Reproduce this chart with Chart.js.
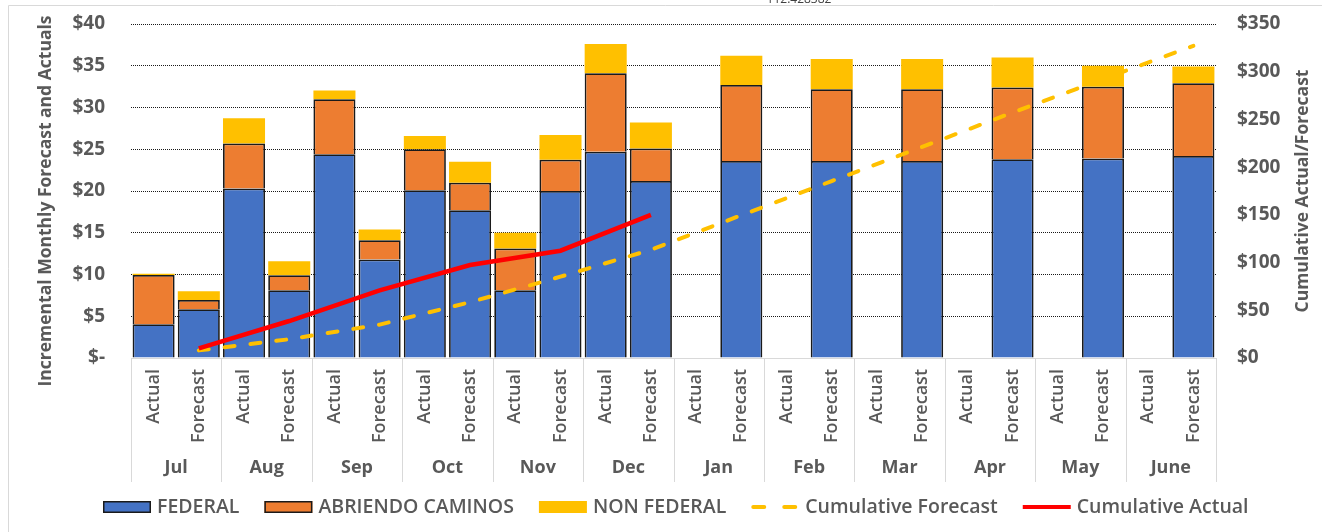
<!DOCTYPE html>
<html>
<head>
<meta charset="utf-8">
<script src="https://cdn.jsdelivr.net/npm/chart.js@4.4.1/dist/chart.umd.min.js"></script>
<style>
  html, body { margin: 0; padding: 0; background: #fff; }
  #wrap { position: relative; width: 1322px; height: 532px; }
</style>
</head>
<body>
<div id="wrap"><canvas id="grafico"></canvas></div>
<script>
// dados
const meses = ['Jul', 'Aug', 'Sep', 'Oct', 'Nov', 'Dec', 'Jan', 'Feb', 'Mar', 'Apr', 'May', 'June'];
const rotulos = ['Actual', 'Forecast', 'Actual', 'Forecast', 'Actual', 'Forecast', 'Actual', 'Forecast',
  'Actual', 'Forecast', 'Actual', 'Forecast', 'Actual', 'Forecast', 'Actual', 'Forecast',
  'Actual', 'Forecast', 'Actual', 'Forecast', 'Actual', 'Forecast', 'Actual', 'Forecast'];

const federal = [4.05, 5.85, 20.3, 8.1, 24.4, 11.8, 20.1, 17.7, 8.1, 20.0, 24.7, 21.2,
  null, 23.6, null, 23.6, null, 23.6, null, 23.8, null, 23.9, null, 24.2];
const abriendo = [5.9, 1.1, 5.4, 1.8, 6.6, 2.3, 4.9, 3.3, 5.0, 3.75, 9.4, 3.9,
  null, 9.1, null, 8.6, null, 8.6, null, 8.6, null, 8.6, null, 8.7];
const nonFederal = [0.15, 1.05, 3.0, 1.7, 1.05, 1.3, 1.6, 2.5, 1.9, 2.95, 3.5, 3.1,
  null, 3.5, null, 3.6, null, 3.6, null, 3.6, null, 2.5, null, 2.0];

const cumForecast = [null, 8.0, null, 19.65, null, 35.0, null, 58.5, null, 85.2, null, 113.4,
  null, 149.6, null, 185.4, null, 221.2, null, 257.2, null, 292.2, null, 327.1];
const cumActual = [null, 10.05, null, 38.75, null, 70.8, null, 97.4, null, 112.428382, null, 150.0,
  null, null, null, null, null, null, null, null, null, null, null, null];

const ticksEsq = [0, 5, 10, 15, 20, 25, 30, 35, 40];
const ticksDir = [0, 50, 100, 150, 200, 250, 300, 350];

const cinza = '#595959';
const fonte = '"Open Sans", Lato, sans-serif';

// legenda desenhada à mão (na ordem do Excel)
function desenhaLegenda(chart) {
  const ctx = chart.ctx;
  const ds = chart.data.datasets;
  const yc = 507;
  ctx.font = '600 19.5px ' + fonte;
  const larg = ds.map(d => 48 + 6 + ctx.measureText(d.label).width);
  const total = larg.reduce((s, w) => s + w, 0) + 25 * (ds.length - 1);
  let x = Math.round(676 - total / 2);
  ds.forEach((d, i) => {
    ctx.save();
    if (d.type === 'line') {
      ctx.strokeStyle = d.borderColor;
      ctx.lineWidth = 4;
      ctx.lineCap = d.borderDash ? 'round' : 'butt';
      ctx.setLineDash(d.borderDash ? [11, 20] : []);
      ctx.beginPath();
      ctx.moveTo(x + (d.borderDash ? 2 : 0), yc);
      ctx.lineTo(x + 48, yc);
      ctx.stroke();
    } else {
      ctx.fillStyle = d.backgroundColor;
      ctx.fillRect(x, yc - 6, 48, 12);
      if (d.borderWidth) {
        ctx.strokeStyle = d.borderColor;
        ctx.lineWidth = 1.5;
        ctx.strokeRect(x + 0.75, yc - 5.25, 46.5, 10.5);
      }
    }
    ctx.restore();
    ctx.fillStyle = cinza;
    ctx.textAlign = 'left';
    ctx.textBaseline = 'middle';
    ctx.fillText(d.label, x + 54, yc);
    x += larg[i] + 25;
  });
}

// desenha moldura, meses, separadores, títulos dos eixos e legenda
const extras = {
  id: 'extras',
  afterDraw(chart) {
    const { ctx, chartArea: a, scales: { x } } = chart;
    ctx.save();

    ctx.strokeStyle = '#d9d9d9';
    ctx.lineWidth = 1;
    ctx.beginPath();
    ctx.moveTo(8.5, 532);
    ctx.lineTo(8.5, 5.5);
    ctx.lineTo(1322, 5.5);
    ctx.stroke();

    // separadores dos meses
    ctx.beginPath();
    for (let m = 0; m <= meses.length; m++) {
      const px = Math.round(x.getPixelForValue(m * 2 - 0.5)) + 0.5;
      ctx.moveTo(px, a.bottom);
      ctx.lineTo(px, 482);
    }
    ctx.stroke();

    ctx.fillStyle = cinza;
    ctx.font = 'bold 18px ' + fonte;
    ctx.textAlign = 'center';
    ctx.textBaseline = 'middle';
    meses.forEach((m, i) => {
      ctx.fillText(m, x.getPixelForValue(i * 2 + 0.5), 468);
    });

    // títulos dos eixos
    ctx.font = 'bold 17.5px ' + fonte;
    const cy = (a.top + a.bottom) / 2;
    ctx.save();
    ctx.translate(46, cy + 10);
    ctx.rotate(-Math.PI / 2);
    ctx.fillText('Incremental Monthly Forecast and Actuals', 0, 0);
    ctx.restore();
    ctx.save();
    ctx.translate(1303, cy);
    ctx.rotate(-Math.PI / 2);
    ctx.fillText('Cumulative Actual/Forecast', 0, 0);
    ctx.restore();

    // rótulo perdido no topo
    ctx.fillStyle = '#404040';
    ctx.font = '12px ' + fonte;
    ctx.fillText('112.428382', 799, 0);

    desenhaLegenda(chart);
    ctx.restore();
  }
};

const ctx = document.getElementById('grafico').getContext('2d');
const grafico = new Chart(ctx, {
  type: 'bar',
  data: {
    labels: rotulos,
    datasets: [
      {
        label: 'FEDERAL', data: federal, backgroundColor: '#4472C4',
        borderColor: '#1a1a1a', borderWidth: 1.75, order: 2
      },
      {
        label: 'ABRIENDO CAMINOS', data: abriendo, backgroundColor: '#ED7D31',
        borderColor: '#1a1a1a', borderWidth: 1.75, order: 2
      },
      {
        label: 'NON FEDERAL', data: nonFederal, backgroundColor: '#FFC000',
        borderWidth: 0, order: 2
      },
      {
        type: 'line', label: 'Cumulative Forecast', data: cumForecast, yAxisID: 'y1',
        borderColor: '#FFC000', backgroundColor: '#FFC000', borderWidth: 4,
        borderDash: [10, 16], borderCapStyle: 'round', pointRadius: 0,
        spanGaps: true, order: 1
      },
      {
        type: 'line', label: 'Cumulative Actual', data: cumActual, yAxisID: 'y1',
        borderColor: '#FF0000', backgroundColor: '#FF0000', borderWidth: 4.5,
        pointRadius: 0, spanGaps: true, order: 0
      }
    ]
  },
  options: {
    responsive: true,
    maintainAspectRatio: false,
    animation: false,
    layout: { padding: { top: 24, bottom: 53, left: 0, right: 0 } },
    datasets: { bar: { categoryPercentage: 1, barPercentage: 0.93 } },
    scales: {
      x: {
        stacked: true,
        grid: { display: false, drawTicks: false },
        border: { display: true, color: '#d9d9d9', width: 1 },
        ticks: {
          color: cinza, font: { family: fonte, size: 18, weight: '600' },
          minRotation: 90, maxRotation: 90, autoSkip: false, padding: 11
        },
        afterFit: s => { s.height = 121; }
      },
      y: {
        stacked: true, min: 0, max: 40,
        afterBuildTicks: s => { s.ticks = ticksEsq.map(v => ({ value: v })); },
        grid: {
          drawTicks: false, lineWidth: 1,
          color: c => c.tick && c.tick.value === 0 ? 'rgba(0,0,0,0)' : '#1a1a1a'
        },
        border: { display: false, dash: [1, 1] },
        ticks: {
          color: cinza, font: { family: fonte, size: 19, weight: 'bold' }, padding: 26,
          callback: v => v === 0 ? '$-' : '$' + v
        },
        afterFit: s => { s.width = 131; s.paddingTop = 0; s.paddingBottom = 0; }
      },
      y1: {
        position: 'right', min: 0, max: 350,
        afterBuildTicks: s => { s.ticks = ticksDir.map(v => ({ value: v })); },
        grid: { display: false, drawTicks: false },
        border: { display: false },
        ticks: {
          color: cinza, font: { family: fonte, size: 19, weight: 'bold' }, padding: 21,
          callback: v => '$' + v
        },
        afterFit: s => { s.width = 106; s.paddingTop = 0; s.paddingBottom = 0; }
      }
    },
    plugins: {
      tooltip: { enabled: false },
      legend: { display: false }
    }
  },
  plugins: [extras]
});
</script>
</body>
</html>
